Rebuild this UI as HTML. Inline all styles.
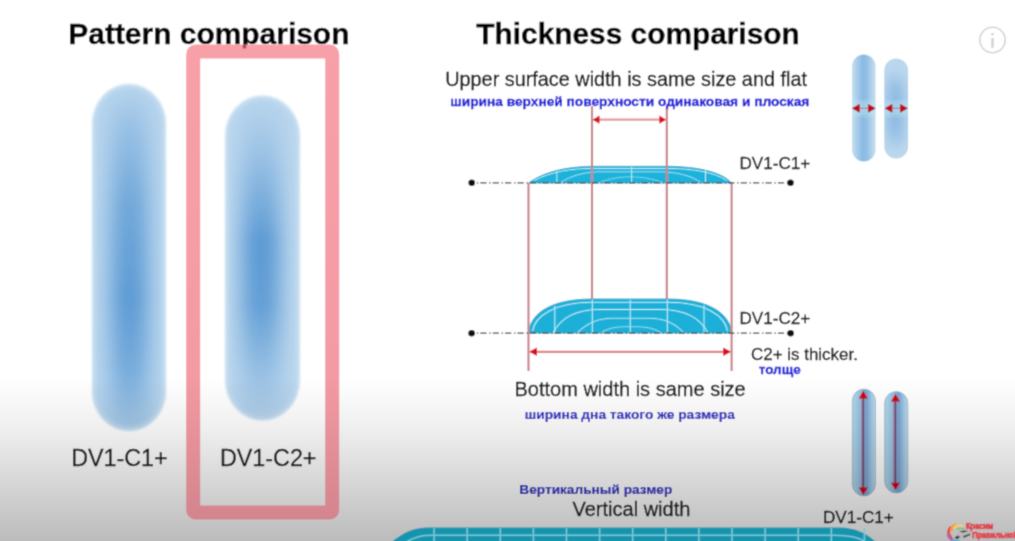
<!DOCTYPE html>
<html><head><meta charset="utf-8">
<style>
html,body{margin:0;padding:0;width:1015px;height:541px;overflow:hidden;background:#fff;}
svg{display:block;position:absolute;left:0;top:0;}
text{font-family:"Liberation Sans",sans-serif;}
</style></head>
<body>
<svg width="1015" height="541" viewBox="0 0 1015 541">
<defs><filter id="global" x="0" y="0" width="1015" height="541" filterUnits="userSpaceOnUse"><feConvolveMatrix order="3" kernelMatrix="0.03108 0.11414 0.03108 0.11414 0.41911 0.11414 0.03108 0.11414 0.03108" edgeMode="duplicate"/></filter></defs>
<g filter="url(#global)">
<rect x="0" y="0" width="1015" height="541" fill="#fff"/>
<defs>
  <linearGradient id="bg" x1="0" y1="0" x2="0" y2="1">
    <stop offset="0" stop-color="#000" stop-opacity="0"/>
    <stop offset="0.3" stop-color="#000" stop-opacity="0.06"/>
    <stop offset="1" stop-color="#000" stop-opacity="0.265"/>
  </linearGradient>
  <filter id="blur2" x="-30%" y="-10%" width="160%" height="120%"><feGaussianBlur stdDeviation="2"/></filter>
  <filter id="blur1" x="-30%" y="-30%" width="160%" height="160%"><feGaussianBlur stdDeviation="0.6"/></filter>
  <filter id="blur08" x="-10%" y="-10%" width="120%" height="120%"><feGaussianBlur stdDeviation="0.5"/></filter>
  <linearGradient id="p1h" x1="0" y1="0" x2="1" y2="0">
    <stop offset="0" stop-color="#c0daee"/>
    <stop offset="0.12" stop-color="#aecfea"/>
    <stop offset="0.5" stop-color="#68a2d6"/>
    <stop offset="0.88" stop-color="#aecfea"/>
    <stop offset="1" stop-color="#c0daee"/>
  </linearGradient>
  <radialGradient id="p2r" cx="0.5" cy="0.5" r="0.5" gradientTransform="translate(0.5 0.55) scale(0.8 0.95) translate(-0.5 -0.5)">
    <stop offset="0" stop-color="#5e9dd5"/>
    <stop offset="0.55" stop-color="#9ac3e6"/>
    <stop offset="1" stop-color="#c0daee"/>
  </radialGradient>
  <linearGradient id="pillV" x1="0" y1="0" x2="0" y2="1">
    <stop offset="0" stop-color="#fff" stop-opacity="0.5"/>
    <stop offset="0.35" stop-color="#fff" stop-opacity="0"/>
    <stop offset="0.65" stop-color="#fff" stop-opacity="0"/>
    <stop offset="1" stop-color="#fff" stop-opacity="0.5"/>
  </linearGradient>
</defs>

<!-- left pills -->
<defs>
  <clipPath id="cp1"><rect x="92" y="84" width="74" height="347" rx="37" ry="40"/></clipPath>
  <clipPath id="cp2"><rect x="225" y="95.5" width="75" height="325" rx="37.5" ry="40"/></clipPath>
  <filter id="hblur" x="-100%" y="-20%" width="300%" height="140%"><feGaussianBlur stdDeviation="10 4"/></filter>
  <filter id="edgeblur" x="-20%" y="-10%" width="140%" height="120%"><feGaussianBlur stdDeviation="1.1"/></filter>
  <linearGradient id="st1" x1="0" y1="0" x2="0" y2="1">
    <stop offset="0" stop-color="#4f92d0" stop-opacity="0"/>
    <stop offset="0.12" stop-color="#4f92d0" stop-opacity="0.3"/>
    <stop offset="0.35" stop-color="#4f92d0" stop-opacity="0.7"/>
    <stop offset="0.62" stop-color="#4f92d0" stop-opacity="0.88"/>
    <stop offset="0.82" stop-color="#4f92d0" stop-opacity="0.65"/>
    <stop offset="0.95" stop-color="#4f92d0" stop-opacity="0.3"/>
    <stop offset="1" stop-color="#4f92d0" stop-opacity="0.15"/>
  </linearGradient>
  <linearGradient id="st2" x1="0" y1="0" x2="0" y2="1">
    <stop offset="0" stop-color="#4f92d0" stop-opacity="0"/>
    <stop offset="0.18" stop-color="#4f92d0" stop-opacity="0.3"/>
    <stop offset="0.45" stop-color="#4f92d0" stop-opacity="0.9"/>
    <stop offset="0.65" stop-color="#4f92d0" stop-opacity="0.82"/>
    <stop offset="0.85" stop-color="#4f92d0" stop-opacity="0.35"/>
    <stop offset="1" stop-color="#4f92d0" stop-opacity="0.05"/>
  </linearGradient>
</defs>
<g filter="url(#edgeblur)">
  <g clip-path="url(#cp1)">
    <rect x="92" y="84" width="74" height="347" fill="#b8d5ed"/>
    <rect x="111" y="84" width="37" height="347" fill="url(#st1)" filter="url(#hblur)"/>
    <rect x="92" y="84" width="74" height="347" rx="37" ry="40" fill="none" stroke="#d2e6f4" stroke-width="6" filter="url(#blur2)" opacity="0.7"/>
  </g>
  <g clip-path="url(#cp2)">
    <rect x="225" y="95.5" width="75" height="325" fill="#bad6ed"/>
    <rect x="242" y="95.5" width="38" height="325" fill="url(#st2)" filter="url(#hblur)"/>
    <rect x="225" y="95.5" width="75" height="325" rx="37.5" ry="40" fill="none" stroke="#d2e6f4" stroke-width="6" filter="url(#blur2)" opacity="0.7"/>
  </g>
</g>

<!-- ===== diagram ===== -->
<g id="diagram">
  <!-- upper arrow -->
  <g filter="url(#blur08)">
    <line x1="597" y1="119.7" x2="661" y2="119.7" stroke="#e8989c" stroke-width="2.2"/>
    <path d="M592.5,119.7 L599.5,115.6 L599.5,123.8 Z" fill="#dc0c18"/>
    <path d="M666.3,119.7 L659.3,115.6 L659.3,123.8 Z" fill="#dc0c18"/>
  </g>
  <!-- bottom arrow -->
  <g filter="url(#blur08)">
    <line x1="534" y1="351.8" x2="726" y2="351.8" stroke="#e07f88" stroke-width="2.2"/>
    <path d="M529,351.8 L537,347.5 L537,356.1 Z" fill="#dc0c18"/>
    <path d="M731.2,351.8 L723.2,347.5 L723.2,356.1 Z" fill="#dc0c18"/>
  </g>

  <!-- lens C1 -->
  <g filter="url(#blur08)">
    <path d="M528.7,183 C540,174 562,166.6 592,166.3 L668,166.3 C698,166.6 722,172 731.6,183 Z" fill="#1cb2da" stroke="#1a9cc4" stroke-width="0.7"/>
    <g fill="none" stroke="#bdeefa" stroke-width="1">
      <path d="M534,180.5 C552,171.5 570,168.6 592,168.4 L668,168.4 C693,168.6 714,172 727,180.5"/>
      <path d="M560,183 C572,175 585,172 600,171.8 L660,171.8 C676,172 690,175 702,183" stroke-opacity="0.8"/>
      <path d="M598,183 C610,178.5 620,176.8 630,176.8 C641,176.8 652,178.5 664,183" stroke-opacity="0.6"/>
      <line x1="556.9" y1="171" x2="556.9" y2="183"/>
      <line x1="631.7" y1="166.5" x2="631.7" y2="183"/>
      <line x1="705.5" y1="169" x2="705.5" y2="183"/>
    </g>
  </g>

  <!-- lens C2 -->
  <g filter="url(#blur08)">
    <path d="M528.7,333 C530,314 550,299 592,299 L668,299 C710,299 730,314 731.6,333 Z" fill="#1cb0d8" stroke="#1a9cc4" stroke-width="0.8"/>
    <g fill="none" stroke="#bdeefa" stroke-width="1.1">
      <path d="M532.5,331 C535,316 555,302.3 592,302.3 L668,302.3 C706,302.3 725,316 727.5,331"/>
      <path d="M553,333 C560,319 575,309.5 600,309.5 L660,309.5 C686,309.5 701,319 708,333"/>
      <path d="M577,333 C586,324 598,318.2 612,318.2 L650,318.2 C664,318.2 676,324 684,333" stroke-opacity="0.85"/>
      <path d="M601,333 C607,328.5 615,326.7 624,326.7 L638,326.7 C647,326.7 655,328.5 661,333" stroke-opacity="0.7"/>
      <line x1="554.8" y1="306" x2="554.8" y2="333"/>
      <line x1="592.3" y1="299.5" x2="592.3" y2="333"/>
      <line x1="630.2" y1="299.5" x2="630.2" y2="333"/>
      <line x1="667.3" y1="299.5" x2="667.3" y2="333"/>
      <line x1="704" y1="305" x2="704" y2="333"/>
    </g>
  </g>

  <!-- red vertical lines -->
  <g stroke="#c9858d" stroke-width="2.2" filter="url(#blur08)">
    <line x1="528.5" y1="183" x2="528.5" y2="371"/>
    <line x1="592" y1="106" x2="592" y2="299"/>
    <line x1="666.8" y1="106" x2="666.8" y2="299"/>
    <line x1="731.6" y1="183" x2="731.6" y2="371"/>
  </g>
  <!-- dash-dot baselines -->
  <g stroke="#4a4a4a" stroke-width="1.3" stroke-dasharray="1.4 2.1 6.2 2.7" filter="url(#blur08)">
    <line x1="476.8" y1="182.8" x2="788" y2="182.8"/>
    <line x1="476.8" y1="333.2" x2="788" y2="333.2"/>
  </g>
  <g fill="#111">
    <circle cx="471.7" cy="182.8" r="3.3"/>
    <circle cx="790.5" cy="182.8" r="3.3"/>
    <circle cx="471.6" cy="333.2" r="3.3"/>
    <circle cx="790.6" cy="333.2" r="3.3"/>
  </g>
</g>


<!-- ===== right pills ===== -->
<defs>
  <linearGradient id="rp1" x1="0" y1="0" x2="1" y2="0">
    <stop offset="0" stop-color="#c8dff0"/>
    <stop offset="0.15" stop-color="#b2d2ec"/>
    <stop offset="0.45" stop-color="#8abae2"/>
    <stop offset="0.62" stop-color="#92bfe4"/>
    <stop offset="0.85" stop-color="#b4d3ec"/>
    <stop offset="1" stop-color="#c8dff0"/>
  </linearGradient>
  <clipPath id="cp4"><rect x="884.3" y="58.5" width="23.8" height="100" rx="11.9" ry="12"/></clipPath>
  <filter id="midblur" x="-100%" y="-50%" width="300%" height="200%"><feGaussianBlur stdDeviation="7"/></filter>
  <linearGradient id="rp3" x1="0" y1="0" x2="1" y2="0">
    <stop offset="0" stop-color="#b0d0e0"/>
    <stop offset="0.12" stop-color="#acd2ea"/>
    <stop offset="0.35" stop-color="#94c0e0"/>
    <stop offset="0.6" stop-color="#76a6d4"/>
    <stop offset="0.85" stop-color="#a8cce6"/>
    <stop offset="1" stop-color="#bcd8e8"/>
  </linearGradient>
</defs>
<g filter="url(#blur1)">
  <rect x="852" y="54.5" width="23.6" height="107" rx="11.8" ry="12" fill="url(#rp1)"/>
  <g clip-path="url(#cp4)">
    <rect x="884" y="58" width="25" height="101" fill="#bcd8ee"/>
    <ellipse cx="895.5" cy="110" rx="6" ry="36" fill="#74aadc" filter="url(#midblur)"/>
  </g>
</g>
<g clip-path="url(#cpTop)"><rect x="850" y="101" width="60" height="15" fill="#c8ecf8" opacity="0.4" filter="url(#blur2)"/></g>
<defs><clipPath id="cpTop"><rect x="852" y="54.5" width="23.6" height="107" rx="11.8"/><rect x="884.3" y="58.5" width="23.8" height="100" rx="11.9"/></clipPath></defs>
<g filter="url(#blur1)">
  <line x1="858" y1="108.3" x2="869" y2="108.3" stroke="#b89098" stroke-width="1.5"/>
  <path d="M852.5,108.3 L859.3,104.4 L859.3,112.2 Z" fill="#d00010" stroke="#900010" stroke-width="0.6"/>
  <path d="M875.2,108.3 L868.4,104.4 L868.4,112.2 Z" fill="#d00010" stroke="#900010" stroke-width="0.6"/>
  <line x1="891" y1="108.3" x2="901" y2="108.3" stroke="#b89098" stroke-width="1.5"/>
  <path d="M885.2,108.3 L892,104.4 L892,112.2 Z" fill="#d00010" stroke="#900010" stroke-width="0.6"/>
  <path d="M907.3,108.3 L900.5,104.4 L900.5,112.2 Z" fill="#d00010" stroke="#900010" stroke-width="0.6"/>
</g>
<g filter="url(#blur1)">
  <rect x="852.3" y="389" width="23.2" height="107" rx="11.6" ry="12" fill="url(#rp3)" stroke="#98b8c8" stroke-width="0.7"/>
  <rect x="884.6" y="391.5" width="23.3" height="101.5" rx="11.6" ry="12" fill="url(#rp3)" stroke="#98b8c8" stroke-width="0.7"/>
  <line x1="863" y1="396" x2="863" y2="489" stroke="#b07890" stroke-width="3"/>
  <line x1="863.3" y1="396" x2="863.3" y2="489" stroke="#684880" stroke-width="1.5"/>
  <path d="M863.3,390.5 L858.8,398.5 L867.8,398.5 Z" fill="#d4000c"/>
  <path d="M863.3,495.3 L858.8,487.5 L867.8,487.5 Z" fill="#d4000c"/>
  <line x1="895" y1="400" x2="895" y2="484" stroke="#b07890" stroke-width="3"/>
  <line x1="895.4" y1="400" x2="895.4" y2="484" stroke="#684880" stroke-width="1.5"/>
  <path d="M895.5,393.7 L891,401.5 L900,401.5 Z" fill="#d4000c"/>
  <path d="M895.5,490.3 L891,482.8 L900,482.8 Z" fill="#d4000c"/>
</g>

<!-- labels left -->
<text x="71.2" y="465.5" font-size="23.3" fill="#141414" stroke="#141414" stroke-width="0.3">DV1-C1+</text>
<text x="220" y="465.5" font-size="23.3" fill="#141414" stroke="#141414" stroke-width="0.3">DV1-C2+</text>

<!-- diagram texts -->
<text x="445.2" y="86" font-size="19.85" fill="#0a0a0a" stroke="#0a0a0a" stroke-width="0.3">Upper surface width is same size and flat</text>
<text x="450.3" y="105.5" font-size="12.6" font-weight="700" fill="#1212d8" stroke="#1212d8" stroke-width="0.3" textLength="359" lengthAdjust="spacingAndGlyphs">ширина верхней поверхности одинаковая и плоская</text>

<text x="739.5" y="169" font-size="17.1" fill="#101010" stroke="#101010" stroke-width="0.3">DV1-C1+</text>
<text x="739.5" y="323.5" font-size="17.1" fill="#101010" stroke="#101010" stroke-width="0.3">DV1-C2+</text>
<text x="751" y="359.6" font-size="16.95" fill="#101010" stroke="#101010" stroke-width="0.3">C2+ is thicker.</text>
<text x="758.7" y="373.5" font-size="12.6" font-weight="700" fill="#1212d8" stroke="#1212d8" stroke-width="0.3" textLength="42" lengthAdjust="spacingAndGlyphs">толще</text>

<text x="514.5" y="395.5" font-size="20" fill="#101010" stroke="#101010" stroke-width="0.3">Bottom width is same size</text>
<text x="524.8" y="418.8" font-size="12.6" font-weight="700" fill="#2424c4" stroke="#2424c4" stroke-width="0.15" textLength="210" lengthAdjust="spacingAndGlyphs">ширина дна такого же размера</text>

<text x="519.3" y="493.7" font-size="12.6" font-weight="700" fill="#2424c4" stroke="#2424c4" stroke-width="0.15" textLength="153" lengthAdjust="spacingAndGlyphs">Вертикальный размер</text>
<text x="572.5" y="516" font-size="20" fill="#101010" stroke="#101010" stroke-width="0.3">Vertical width</text>
<text x="823" y="523" font-size="17.1" fill="#101010" stroke="#101010" stroke-width="0.3">DV1-C1+</text>

<!-- background gradient overlay -->
<rect x="0" y="378" width="1015" height="163" fill="url(#bg)"/>

<!-- ===== bottom teal shape ===== -->
<g filter="url(#blur08)">
  <path d="M392,541.5 C403,533.5 412,528 426,527.6 L840,527.6 C855,528 866,533 875.4,541.5 Z" fill="#1994ae"/>
  <g fill="none" stroke="#74c8d8" stroke-width="1.6">
    <path d="M407,541.5 C415,537 421,535.2 434,535.2 L835,535.2 C850,535.2 858,537 865,541.5"/>
    <line x1="434.1" y1="528" x2="434.1" y2="541"/>
    <line x1="467.2" y1="528" x2="467.2" y2="541"/>
    <line x1="500.3" y1="528" x2="500.3" y2="541"/>
    <line x1="533.4" y1="528" x2="533.4" y2="541"/>
    <line x1="566.5" y1="528" x2="566.5" y2="541"/>
    <line x1="599.6" y1="528" x2="599.6" y2="541"/>
    <line x1="632.7" y1="528" x2="632.7" y2="541"/>
    <line x1="665.8" y1="528" x2="665.8" y2="541"/>
    <line x1="698.9" y1="528" x2="698.9" y2="541"/>
    <line x1="732.0" y1="528" x2="732.0" y2="541"/>
    <line x1="765.1" y1="528" x2="765.1" y2="541"/>
    <line x1="798.2" y1="528" x2="798.2" y2="541"/>
    <line x1="831.3" y1="528" x2="831.3" y2="541"/>
    <line x1="864.4" y1="528" x2="864.4" y2="541"/>
  </g>
</g>
<!-- titles -->
<text x="68.3" y="43.7" font-size="29.95" font-weight="700" fill="#000" stroke="#000" stroke-width="0.35">Pattern comparison</text>
<text x="476.3" y="43.8" font-size="29.85" font-weight="700" fill="#000" stroke="#000" stroke-width="0.35">Thickness comparison</text>


<!-- pink frame (above overlay) -->
<defs>
  <linearGradient id="fg" gradientUnits="userSpaceOnUse" x1="0" y1="44" x2="0" y2="520">
    <stop offset="0" stop-color="#f8a0a8"/>
    <stop offset="0.7" stop-color="#f39aa2"/>
    <stop offset="1" stop-color="#d3848c"/>
  </linearGradient>
</defs>
<rect x="193.2" y="51.4" width="139" height="461.1" rx="2.5" ry="2.5" fill="none" stroke="url(#fg)" stroke-width="14" filter="url(#blur08)"/>

<rect x="242.8" y="44.8" width="3.4" height="3.6" fill="#902838" opacity="0.75"/>
<!-- info icon -->
<circle cx="992.5" cy="40" r="12.7" fill="none" stroke="#d4d4d4" stroke-width="1.6"/>
<rect x="991.2" y="33" width="2.6" height="2.2" fill="#d4d4d4"/>
<rect x="991.2" y="38" width="2.6" height="9.8" fill="#d4d4d4"/>

<!-- ===== logo ===== -->
<g filter="url(#blur08)">
  <path d="M951,537.5 Q946,532 950.5,527.5" stroke="#e44a58" stroke-width="2.8" fill="none" stroke-linecap="round"/>
  <path d="M951.5,531 Q951,526 955.5,524.8" stroke="#eea040" stroke-width="2.6" fill="none" stroke-linecap="round"/>
  <path d="M954.5,527.5 Q957,524 962,525.8" stroke="#f0cc70" stroke-width="2.4" fill="none" stroke-linecap="round"/>
  <path d="M957,529.3 Q960,527.5 964,529" stroke="#80c080" stroke-width="1.8" fill="none" stroke-linecap="round"/>
  <path d="M948,535 Q949,539 953,540" stroke="#b066b0" stroke-width="2.6" fill="none" stroke-linecap="round"/>
  <path d="M951,541.5 Q955,540 960,541.5" stroke="#40b0e0" stroke-width="2" fill="none"/>
  <path d="M954,537.5 L958,533 L966,531 L971,531.5 L970,535.5 L964,538.5 L956,540 Z" fill="#b8b8b8"/>
  <path d="M959,531.2 L965,530.5 L968,531 L963,532.5 Z" fill="#333"/>
  <path d="M954.5,537.5 L958,535.5 L960,537 L957,539.5 Z" fill="#444"/>
  <path d="M963,536 L970,533.5 L970.5,535 L964,538 Z" fill="#555"/>
  <text x="965.8" y="529.4" font-size="8.4" font-weight="700" fill="#e0404c" stroke="#e0404c" stroke-width="0.7" textLength="27.5" lengthAdjust="spacingAndGlyphs">Красим</text>
  <text x="972.3" y="538.2" font-size="8.4" font-weight="700" fill="#e0404c" stroke="#e0404c" stroke-width="0.7" textLength="43.5" lengthAdjust="spacingAndGlyphs">Правильно!</text>
</g>
</g>
</svg>
</body></html>
